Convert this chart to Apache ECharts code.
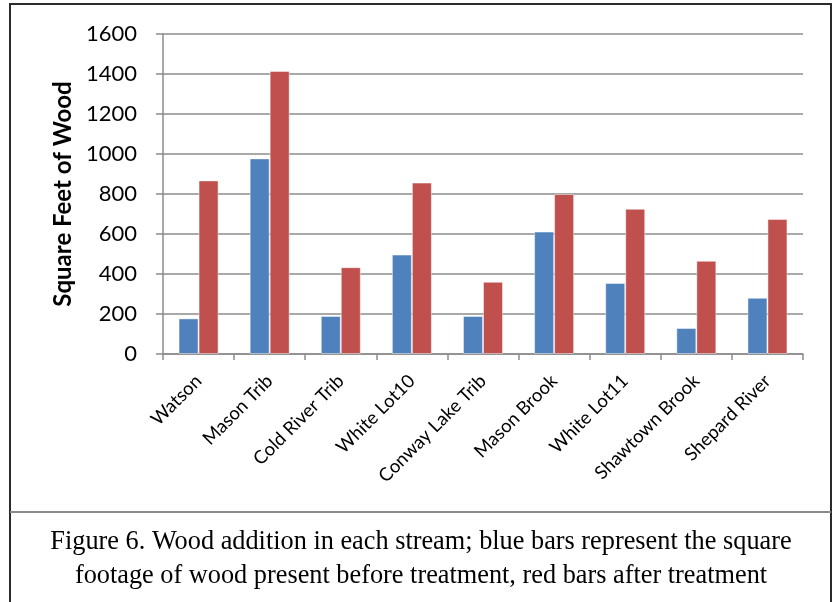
<!DOCTYPE html>
<html>
<head>
<meta charset="utf-8">
<script src="https://cdn.jsdelivr.net/npm/echarts@6/dist/echarts.min.js"></script>
<style>
  html, body { margin: 0; padding: 0; background: #fff; }
  #chart { width: 834px; height: 602px; }
</style>
</head>
<body>
<div id="chart"></div>
<script>
// Streams surveyed
const streams = ['Watson', 'Mason Trib', 'Cold River Trib', 'White Lot10', 'Conway Lake Trib',
                 'Mason Brook', 'White Lot11', 'Shawtown Brook', 'Shepard River'];
// Square feet of wood before treatment (blue)
const beforeTreatment = [178, 978, 190, 497, 190, 612, 355, 130, 281];
// Square feet of wood after treatment (red)
const afterTreatment = [868, 1415, 434, 857, 361, 800, 726, 466, 675];
// Value axis ticks
const yMin = 0, yMax = 1600, yStep = 200;

const caption = [
  'Figure 6. Wood addition in each stream; blue bars represent the square',
  'footage of wood present before treatment, red bars after treatment'
];

const chartFont = 'Lato, "Open Sans", sans-serif';
const gridColor = '#8c8c8c';

const chart = echarts.init(document.getElementById('chart'), null, { renderer: 'canvas' });

chart.setOption({
  animation: false,
  backgroundColor: '#ffffff',
  grid: { left: 163, right: 31, top: 34, bottom: 248, containLabel: false },
  xAxis: {
    type: 'category',
    data: streams,
    boundaryGap: true,
    axisLine: { show: true, lineStyle: { color: gridColor, width: 1.5 } },
    axisTick: { show: true, length: 6, lineStyle: { color: gridColor, width: 1.5 } },
    axisLabel: {
      rotate: 45,
      interval: 0,
      margin: 24,
      color: '#000',
      fontFamily: chartFont,
      fontSize: 18.5
    }
  },
  yAxis: {
    type: 'value',
    min: yMin,
    max: yMax,
    interval: yStep,
    name: 'Square Feet of Wood',
    nameLocation: 'middle',
    nameRotate: 90,
    nameGap: 86,
    nameTextStyle: { color: '#000', fontFamily: chartFont, fontSize: 24, fontWeight: 'bold' },
    axisLine: { show: true, lineStyle: { color: gridColor, width: 1.5 } },
    axisTick: { show: true, length: 7, lineStyle: { color: gridColor, width: 1.5 } },
    axisLabel: {
      margin: 26,
      color: '#000',
      fontFamily: chartFont,
      fontSize: 22,
      formatter: (v) => String(v)
    },
    splitLine: { show: true, lineStyle: { color: gridColor, width: 1.5 } }
  },
  series: [
    {
      name: 'Before treatment',
      type: 'bar',
      data: beforeTreatment,
      barWidth: 20,
      barGap: '0%',
      itemStyle: { color: '#4f81bd', borderColor: 'rgba(255,255,255,0.45)', borderWidth: 1 }
    },
    {
      name: 'After treatment',
      type: 'bar',
      data: afterTreatment,
      barWidth: 20,
      barGap: '0%',
      itemStyle: { color: '#c0504d', borderColor: 'rgba(255,255,255,0.45)', borderWidth: 1 }
    }
  ],
  graphic: [
    // chart frame: top, left, right
    { type: 'line', shape: { x1: 10, y1: 4, x2: 831, y2: 4 }, style: { stroke: '#2b2b2b', lineWidth: 2 } },
    { type: 'line', shape: { x1: 10, y1: 3, x2: 10, y2: 602 }, style: { stroke: '#2b2b2b', lineWidth: 2 } },
    { type: 'line', shape: { x1: 831, y1: 3, x2: 831, y2: 602 }, style: { stroke: '#2b2b2b', lineWidth: 2 } },
    // separator between chart and caption
    { type: 'line', shape: { x1: 10, y1: 512, x2: 831, y2: 512 }, style: { stroke: '#8a8a8a', lineWidth: 2 } },
    // caption
    {
      type: 'text', x: 421, y: 525,
      style: {
        text: caption.join('\n'),
        font: '26.3px "Liberation Serif", "Times New Roman", serif',
        fill: '#000',
        align: 'center',
        lineHeight: 34
      }
    }
  ]
});
</script>
</body>
</html>
